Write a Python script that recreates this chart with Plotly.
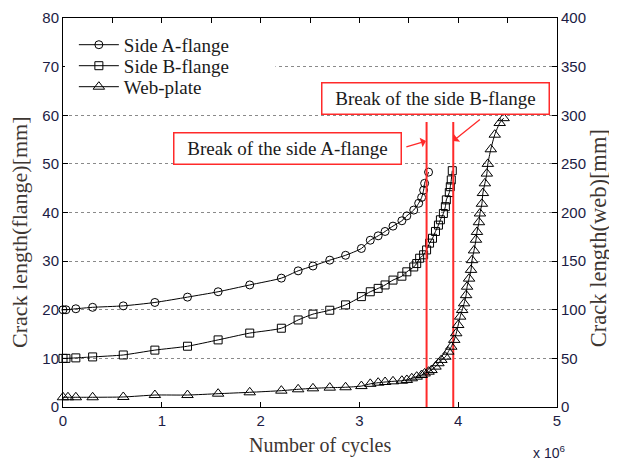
"""Crack growth vs number of cycles (flange / web)."""

import plotly.graph_objects as go

# cycles in units of 1e6
side_a_cycles = [0, 0.03, 0.13, 0.30, 0.61, 0.93, 1.26, 1.57, 1.89,
                 2.21, 2.38, 2.53, 2.70, 2.86, 3.02, 3.11, 3.19, 3.26, 3.34,
                 3.43, 3.48, 3.55, 3.60, 3.63, 3.65, 3.66, 3.70]
side_a_crack = [20.0, 20.0, 20.2, 20.5, 20.8, 21.5, 22.6, 23.7, 25.1,
                26.5, 28.0, 29.0, 30.2, 31.2, 32.6, 34.3, 35.2, 36.1, 37.2,
                38.3, 39.3, 40.5, 41.9, 43.1, 44.6, 46.0, 48.3]

side_b_cycles = [0, 0.03, 0.13, 0.30, 0.61, 0.93, 1.26, 1.57, 1.89,
                 2.21, 2.38, 2.53, 2.70, 2.86, 3.02, 3.11, 3.19, 3.26, 3.34,
                 3.43, 3.48, 3.55, 3.58, 3.61, 3.65, 3.68, 3.71, 3.74, 3.77,
                 3.80, 3.82, 3.85, 3.87, 3.88, 3.91, 3.92, 3.93, 3.94]
side_b_crack = [10.0, 10.0, 10.1, 10.3, 10.7, 11.7, 12.5, 13.8, 15.2,
                16.2, 17.9, 19.1, 19.9, 21.0, 22.7, 23.7, 24.4, 25.1, 26.1,
                26.9, 27.8, 28.8, 29.5, 30.6, 31.3, 32.3, 33.7, 34.7, 36.1,
                37.4, 38.5, 39.8, 41.2, 42.6, 44.1, 45.3, 46.7, 48.6]

web_cycles = [0, 0.05, 0.13, 0.30, 0.61, 0.93, 1.26, 1.57, 1.89,
              2.21, 2.38, 2.53, 2.70, 2.86, 3.02, 3.11, 3.19, 3.26, 3.34,
              3.43, 3.48, 3.53, 3.58, 3.63, 3.66, 3.70, 3.73, 3.77, 3.80,
              3.83, 3.87, 3.90, 3.93, 3.96, 3.98, 4.00, 4.02, 4.04, 4.06,
              4.08, 4.09, 4.11, 4.13, 4.14, 4.16, 4.18, 4.19, 4.21, 4.22,
              4.24, 4.25, 4.27, 4.29, 4.30, 4.33, 4.37, 4.42, 4.46]
web_crack = [10, 10, 10, 10, 10.3, 12.3, 12.3, 13.7, 15.1,
             16.8, 18.2, 19.2, 19.9, 20.3, 21.5, 23.8, 25.0, 25.7, 26.4,
             27.0, 27.8, 29.5, 31.2, 32.9, 34.5, 36.3, 38.0, 41.5, 45.0,
             48.4, 51.7, 56.9, 62.0, 69.0, 75.8, 84.3, 92.9, 99.7, 106.6,
             115, 123.7, 132, 141, 151, 161, 172, 180, 190, 199,
             209, 220, 230, 240, 250, 265, 280, 292, 297]

break_cycles = [3.68, 3.95]
break_labels = ["Break of the side A-flange", "Break of the side B-flange"]
break_line_top = 58.6

SERIF = "Liberation Serif, Times New Roman, serif"
SANS = "Liberation Sans, Arial, sans-serif"
RED = "#ff2a2a"
TICK_COLOR = "#1c1c44"
TITLE_COLOR = "#3d3632"

fig = go.Figure()

# each series gets its own legend so the row spacing can be set
series = [
    ("Side A-flange", side_a_cycles, side_a_crack, "circle-open", 8, "y", "legend", 0.931),
    ("Side B-flange", side_b_cycles, side_b_crack, "square-open", 8, "y", "legend2", 0.877),
    ("Web-plate", web_cycles, web_crack, "triangle-up-open", 10, "y2", "legend3", 0.823),
]
legend_layout = {}
for name, xs, ys, sym, size, yax, leg, ly in series:
    fig.add_trace(go.Scatter(
        x=xs, y=ys, name=name, yaxis=yax, legend=leg,
        mode="lines+markers",
        line=dict(color="black", width=1, shape="spline", smoothing=0.6),
        marker=dict(symbol=sym, size=size, color="black",
                    line=dict(color="black", width=1)),
        cliponaxis=False,
    ))
    legend_layout[leg] = dict(
        x=0.022, y=ly, xanchor="left", yanchor="middle",
        bgcolor="rgba(0,0,0,0)", borderwidth=0, itemwidth=40,
        font=dict(family=SERIF, size=19, color="#1a1a1a"),
    )

# white patch under the legend (the 70 mm grid line stops there)
fig.add_shape(type="rect", xref="x", yref="y", x0=0.02, x1=2.15,
              y0=63, y1=77.5, fillcolor="white", line=dict(width=0),
              layer="above")

# red break lines
for bx in break_cycles:
    fig.add_trace(go.Scatter(
        x=[bx, bx], y=[0, break_line_top], mode="lines",
        line=dict(color=RED, width=2), showlegend=False, hoverinfo="skip",
    ))

# top axis with half-step ticks
fig.add_trace(go.Scatter(x=[0, 5], y=[0, 0], xaxis="x2", mode="markers",
                         marker=dict(opacity=0), showlegend=False,
                         hoverinfo="skip"))

# break label boxes
box_pos = [(2.277, 53.2), (3.775, 63.4)]
for (bx, by), label in zip(box_pos, break_labels):
    fig.add_annotation(
        x=bx, y=by, xref="x", yref="y", text=label, showarrow=False,
        font=dict(family=SERIF, size=19, color="#1a1a1a"),
        bgcolor="white", bordercolor=RED, borderwidth=1.5,
        width=226, height=30, borderpad=0,
    )

# arrows box -> break line
arrows = [((3.445, 53.3), (3.674, 54.7)), ((4.25, 59.6), (3.947, 54.7))]
for (tx, ty), (hx, hy) in arrows:
    fig.add_annotation(
        x=hx, y=hy, ax=tx, ay=ty, xref="x", yref="y", axref="x", ayref="y",
        text=" ", showarrow=True, arrowhead=1, arrowsize=1.3,
        arrowwidth=1.3, arrowcolor=RED,
    )

# axis titles as annotations (placed like the reference)
fig.add_annotation(
    x=0.520, y=-0.098, xref="paper", yref="paper", showarrow=False,
    text="Number of cycles", xanchor="center", yanchor="middle",
    font=dict(family=SERIF, size=20, color=TITLE_COLOR),
)
fig.add_annotation(
    x=-0.087, y=0.45, xref="paper", yref="paper", showarrow=False,
    text="Crack length(flange)[mm]", textangle=-90,
    xanchor="center", yanchor="middle",
    font=dict(family=SERIF, size=22, color=TITLE_COLOR),
)
fig.add_annotation(
    x=1.083, y=0.434, xref="paper", yref="paper", showarrow=False,
    text="Crack length(web)[mm]", textangle=-90,
    xanchor="center", yanchor="middle",
    font=dict(family=SERIF, size=22.5, color=TITLE_COLOR),
)
fig.add_annotation(
    x=1.02, y=-0.116, xref="paper", yref="paper", xanchor="right",
    yanchor="middle", showarrow=False, text="x 10<sup>6</sup>",
    font=dict(family=SANS, size=14, color=TICK_COLOR),
)

axis_common = dict(
    ticks="inside", ticklen=5, tickcolor="black", automargin=False,
    showline=True, linecolor="black", linewidth=1, zeroline=False,
    tickfont=dict(family=SANS, size=15, color=TICK_COLOR),
)

# page body has an 8 px margin, so the figure sits 8 px in from the corner
fig.update_layout(
    width=609, height=453,
    margin=dict(l=55, r=60, t=10, b=54),
    paper_bgcolor="white", plot_bgcolor="white",
    showlegend=True,
    **legend_layout,
    xaxis=dict(range=[0, 5], dtick=1, showgrid=False, **axis_common),
    xaxis2=dict(
        range=[0, 5], dtick=0.5, overlaying="x", side="top",
        showticklabels=False, showgrid=False, ticks="inside", ticklen=5,
        tickcolor="black", showline=True, linecolor="black", zeroline=False,
        automargin=False,
    ),
    yaxis=dict(
        range=[0, 80], dtick=10,
        showgrid=True, gridcolor="#8a8a8a", griddash="dot", gridwidth=1,
        **axis_common,
    ),
    yaxis2=dict(
        range=[0, 400], dtick=50, overlaying="y", side="right",
        showgrid=False, **axis_common,
    ),
)

fig.write_html("out.html")
